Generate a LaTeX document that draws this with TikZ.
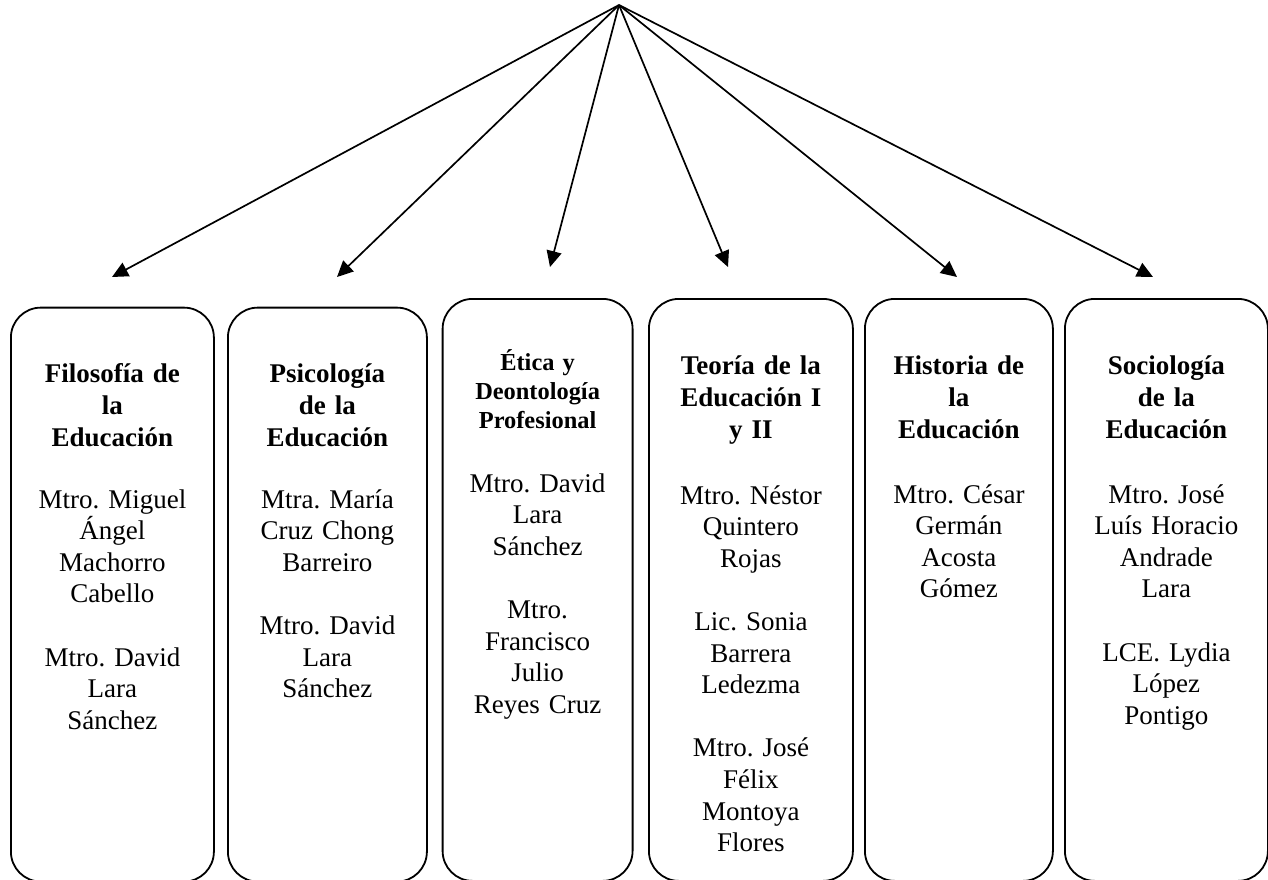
\documentclass[tikz,border=0pt]{standalone}
\usepackage{fontspec}
\setmainfont{Liberation Serif}
\usetikzlibrary{positioning,arrows.meta}
\frenchspacing

\tikzset{
  course/.style={rectangle, draw, rounded corners=15pt, anchor=north west, inner sep=0pt, line width=0.9pt},
  subject/.style={align=center, text width=96pt, inner sep=0pt, anchor=base, font=\bfseries\fontsize{13.5}{16}\selectfont},
  teacher/.style={align=center, text width=96pt, inner sep=0pt, anchor=base, font=\fontsize{13.5}{15.8}\selectfont},
}

\begin{document}
\begin{tikzpicture}[x=0.5pt, y=-0.5pt, >={Triangle[length=8pt,width=7.5pt]}, line width=0.85pt]
    \useasboundingbox (0,0) rectangle (1268,879);

    % Nodes
    \coordinate (top) at (619,5);
    \node[course, minimum width=101.5pt, minimum height=287pt] (b1) at (10,306.7) {};
    \node[course, minimum width=99.5pt, minimum height=287pt] (b2) at (227,306.7) {};
    \node[course, minimum width=95pt, minimum height=291pt] (b3) at (441.7,298) {};
    \node[course, minimum width=102pt, minimum height=291pt] (b4) at (648,298) {};
    \node[course, minimum width=94pt, minimum height=291pt] (b5) at (864,298) {};
    \node[course, minimum width=101.5pt, minimum height=291pt] (b6) at (1064,298) {};

    \node[subject, below=38pt of b1.north, anchor=base] (s1) {Filosofía de\\la\\Educación};
    \node[teacher, below=100.7pt of b1.north, anchor=base] (t1)
    {Mtro. Miguel\\Ángel\\Machorro\\Cabello\\[15.8pt]Mtro. David\\Lara\\Sánchez};

    \node[subject, below=38pt of b2.north, anchor=base] (s2) {Psicología\\de la\\Educación};
    \node[teacher, below=100.7pt of b2.north, anchor=base] (t2)
    {Mtra. María\\Cruz Chong\\Barreiro\\[15.8pt]Mtro. David\\Lara\\Sánchez};

    \node[subject, below=36pt of b3.north, anchor=base, font=\bfseries\fontsize{12.2}{14.5}\selectfont] (s3)
    {Ética y\\Deontología\\Profesional};
    \node[teacher, below=97pt of b3.north, anchor=base] (t3)
    {Mtro. David\\Lara\\Sánchez\\[15.8pt]Mtro.\\Francisco\\Julio\\Reyes Cruz};

    \node[subject, below=38pt of b4.north, anchor=base] (s4) {Teoría de la\\Educación I\\y II};
    \node[teacher, below=103pt of b4.north, anchor=base] (t4)
    {Mtro. Néstor\\Quintero\\Rojas\\[15.8pt]Lic. Sonia\\Barrera\\Ledezma\\[15.8pt]Mtro. José\\Félix\\Montoya\\Flores};

    \node[subject, below=38pt of b5.north, anchor=base] (s5) {Historia de\\la\\Educación};
    \node[teacher, below=102.5pt of b5.north, anchor=base] (t5)
    {Mtro. César\\Germán\\Acosta\\Gómez};

    \node[subject, below=38pt of b6.north, anchor=base] (s6) {Sociología\\de la\\Educación};
    \node[teacher, below=102.5pt of b6.north, anchor=base] (t6)
    {Mtro. José\\Luís Horacio\\Andrade\\Lara\\[15.8pt]LCE. Lydia\\López\\Pontigo};

    % Arrows
    \coordinate (e1) at (112,277);
    \coordinate (e2) at (337,277);
    \coordinate (e3) at (550,267);
    \coordinate (e4) at (728,267);
    \coordinate (e5) at (957,277);
    \coordinate (e6) at (1153,277);
    \foreach \i in {1,...,6}
        \draw[->] (top) -- (e\i);

\end{tikzpicture}
\end{document}
